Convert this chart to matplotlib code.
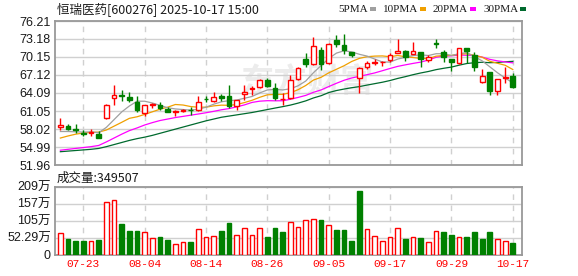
import numpy as np
import matplotlib
matplotlib.use('Agg')
import matplotlib.pyplot as plt
from matplotlib.patches import Rectangle

# daily bars, 2025-07-18 .. 2025-10-17
dates = ['07-18', '07-21', '07-22', '07-23', '07-24', '07-25', '07-28', '07-29', '07-30', '07-31',
         '08-01', '08-04', '08-05', '08-06', '08-07', '08-08', '08-11', '08-12', '08-13', '08-14',
         '08-15', '08-18', '08-19', '08-20', '08-21', '08-22', '08-25', '08-26', '08-27', '08-28',
         '08-29', '09-01', '09-02', '09-03', '09-04', '09-05', '09-08', '09-09', '09-10', '09-11',
         '09-12', '09-15', '09-16', '09-17', '09-18', '09-19', '09-22', '09-23', '09-24', '09-25',
         '09-26', '09-29', '09-30', '10-09', '10-10', '10-13', '10-14', '10-15', '10-16', '10-17']

opens = [58.32, 58.60, 58.10, 57.40, 57.40, 57.26, 59.82, 63.17, 63.80, 63.45,
         62.50, 60.70, 62.10, 62.06, 61.33, 60.95, 61.10, 61.30, 61.16, 63.10,
         62.73, 63.50, 63.50, 61.95, 64.00, 64.80, 65.17, 66.29, 65.00, 63.05,
         63.17, 66.51, 69.75, 68.92, 71.31, 69.08, 72.98, 72.15, 70.92, 66.58,
         68.52, 69.20, 69.30, 69.64, 70.76, 71.14, 70.59, 70.92, 69.64, 72.45,
         70.92, 69.75, 69.08, 71.59, 70.42, 66.01, 67.57, 64.34, 66.60, 66.96]
highs = [59.89, 58.88, 58.93, 57.93, 58.10, 57.65, 62.28, 65.41, 64.62, 64.28,
         63.50, 62.10, 62.40, 62.56, 61.73, 61.28, 61.35, 61.73, 63.50, 63.62,
         64.17, 63.84, 65.46, 62.95, 65.46, 65.29, 66.40, 66.58, 65.74, 64.06,
         67.13, 68.52, 70.76, 73.53, 71.87, 72.53, 73.82, 74.10, 71.03, 68.52,
         69.47, 69.75, 69.40, 70.76, 73.15, 71.31, 72.65, 71.03, 70.47, 73.15,
         71.31, 69.75, 71.70, 71.59, 70.92, 68.08, 67.68, 66.40, 68.52, 67.41]
lows = [57.93, 57.93, 57.38, 56.81, 56.80, 56.43, 59.72, 62.06, 62.73, 62.61,
        60.82, 60.27, 61.61, 61.28, 60.85, 60.16, 60.90, 60.44, 61.10, 62.50,
        62.50, 62.73, 61.56, 61.28, 62.95, 63.78, 64.90, 65.17, 62.95, 62.11,
        63.06, 66.29, 68.52, 68.80, 67.97, 68.97, 71.76, 70.59, 70.19, 64.07,
        68.13, 68.80, 68.70, 69.35, 70.76, 69.52, 70.59, 68.52, 69.35, 71.70,
        69.35, 67.85, 68.92, 69.19, 67.85, 65.84, 63.78, 63.78, 65.74, 65.00]
closes = [58.72, 58.10, 57.80, 57.20, 57.50, 56.54, 62.06, 63.73, 63.65, 62.90,
          61.28, 62.10, 62.20, 61.60, 60.90, 61.05, 61.20, 61.15, 62.56, 63.00,
          63.40, 63.30, 61.95, 62.84, 64.20, 64.95, 66.29, 65.33, 63.17, 63.12,
          66.29, 68.25, 69.02, 71.98, 68.92, 72.42, 72.31, 71.31, 70.42, 68.25,
          69.08, 69.30, 69.35, 70.53, 71.14, 70.08, 71.14, 69.80, 70.08, 72.40,
          70.19, 69.35, 71.59, 71.20, 68.41, 66.96, 64.34, 66.40, 66.75, 65.17]
# volume in 万 shares
volumes = [64.6, 49, 43, 41, 43, 46, 162, 168, 95, 71,
           71, 68, 51, 55, 46, 33, 39, 37, 79, 55,
           58, 71, 98, 61.5, 82, 61.5, 82, 55, 80, 68,
           100, 86, 107, 110, 107, 92, 74, 74, 43, 194,
           79, 58, 40, 55, 83, 49, 55, 52, 37, 71,
           68, 61.5, 55, 55, 68, 49, 68, 49, 43, 34.9507]

ma5 = [57.60, 57.60, 57.55, 57.50, 57.55, 57.40, 58.30, 59.60, 60.90, 61.90,
       62.70, 62.70, 62.40, 62.00, 61.60, 61.40, 61.30, 61.20, 61.35, 61.70,
       62.20, 62.60, 62.80, 62.90, 63.20, 63.50, 64.10, 64.60, 64.70, 64.60,
       64.80, 65.30, 66.10, 67.50, 68.70, 69.90, 70.80, 71.20, 71.00, 70.60,
       70.30, 69.80, 69.30, 69.30, 69.80, 70.10, 70.40, 70.50, 70.40, 70.70,
       70.70, 70.40, 70.70, 70.90, 70.20, 69.50, 68.50, 67.50, 66.60, 65.80]
ma10 = [56.50, 56.85, 57.15, 57.35, 57.45, 57.50, 57.85, 58.50, 59.15, 59.82,
        60.08, 60.48, 60.92, 61.36, 61.70, 62.15, 62.06, 61.80, 61.69, 61.70,
        61.92, 62.04, 62.01, 62.14, 62.47, 62.86, 63.36, 63.78, 63.84, 63.86,
        64.14, 64.64, 65.35, 66.26, 66.73, 67.48, 68.08, 68.68, 69.40, 69.92,
        70.20, 70.30, 70.33, 70.19, 70.41, 70.18, 70.06, 69.91, 69.88, 70.29,
        70.40, 70.41, 70.63, 70.70, 70.42, 70.11, 69.43, 69.09, 68.76, 68.04]
ma20 = [54.45, 54.60, 54.75, 54.90, 55.05, 55.25, 55.85, 56.50, 57.15, 57.75,
        58.20, 58.70, 59.10, 59.45, 59.70, 59.95, 60.15, 60.35, 60.55, 60.76,
        61.00, 61.26, 61.46, 61.75, 62.08, 62.50, 62.71, 62.79, 62.77, 62.78,
        63.03, 63.34, 63.68, 64.20, 64.60, 65.17, 65.72, 66.23, 66.62, 66.89,
        67.17, 67.47, 67.84, 68.22, 68.57, 68.83, 69.07, 69.29, 69.64, 70.10,
        70.30, 70.35, 70.48, 70.44, 70.42, 70.14, 69.75, 69.50, 69.32, 69.16]
ma30 = [54.20, 54.30, 54.40, 54.50, 54.60, 54.75, 55.05, 55.40, 55.75, 56.10,
        56.40, 56.65, 56.95, 57.30, 57.65, 58.00, 58.35, 58.70, 59.05, 59.40,
        59.70, 60.00, 60.20, 60.40, 60.60, 60.80, 61.05, 61.30, 61.55, 61.79,
        62.05, 62.38, 62.76, 63.25, 63.63, 64.16, 64.50, 64.75, 64.98, 65.16,
        65.42, 65.66, 65.90, 66.19, 66.54, 66.84, 67.17, 67.46, 67.71, 68.02,
        68.25, 68.45, 68.77, 69.05, 69.19, 69.26, 69.19, 69.23, 69.35, 69.41]

price_ticks = [51.96, 54.99, 58.02, 61.05, 64.09, 67.12, 70.15, 73.18, 76.21]
vol_ticks = [0, 52.29, 104.58, 156.87, 209.16]
vol_labels = ['0', '52.29万', '105万', '157万', '209万']
ma_names = ['5PMA', '10PMA', '20PMA', '30PMA']

RED = '#ff0000'
GREEN = '#008000'
MA_COLORS = ['#a0a0a0', '#f0a000', '#ff00ff', '#006a2e']
GRID = '#d0d0d0'
BORDER = '#999999'
TXT = '#1a1a1a'

W, H = 578, 276
fig = plt.figure(figsize=(W / 100, H / 100), dpi=100)


def fx(px):
    return px / W


def fy(py):
    return 1 - py / H


ax = fig.add_axes([fx(55), fy(165), (522 - 55) / W, (165 - 21) / H])
axv = fig.add_axes([fx(55), fy(254.5), (522 - 55) / W, (254.5 - 186.5) / H])

x = np.arange(len(dates))
o = np.array(opens)
h = np.array(highs)
l = np.array(lows)
c = np.array(closes)
w = 0.62

# moving averages
for vals, col in zip([ma30, ma20, ma10, ma5], MA_COLORS[::-1]):
    ax.plot(x, vals, color=col, lw=0.9, zorder=2)

# candles
for i in x:
    if c[i] > o[i]:
        ax.vlines(i, c[i], h[i], color=RED, lw=1, zorder=3)
        ax.vlines(i, l[i], o[i], color=RED, lw=1, zorder=3)
        ax.add_patch(Rectangle((i - w / 2, o[i]), w, c[i] - o[i], facecolor='white',
                               edgecolor=RED, lw=1, zorder=4))
    else:
        ax.vlines(i, l[i], h[i], color=GREEN, lw=1, zorder=3)
        ax.add_patch(Rectangle((i - w / 2, c[i]), w, o[i] - c[i], facecolor=GREEN,
                               edgecolor=GREEN, lw=1, zorder=4))

# volume bars coloured by change vs previous close
prev = np.concatenate([[o[0]], c[:-1]])
vol_up = c >= prev
axv.bar(x, volumes, width=w, color=np.where(vol_up, 'white', GREEN),
        edgecolor=np.where(vol_up, RED, GREEN), lw=1, zorder=3)

for a in (ax, axv):
    a.set_xlim(-0.7, 60.2)
    a.set_xticks(x[3::8])
    a.grid(axis='x', color=GRID, lw=1, linestyle=(0, (4, 4)))
    a.grid(axis='y', color=GRID, lw=1, linestyle='-')
    a.set_axisbelow(True)
    a.tick_params(length=0, pad=3, labelsize=9, colors=TXT)
    for s in a.spines.values():
        s.set_color(BORDER)
        s.set_linewidth(1.3)

ax.set_ylim(price_ticks[0], price_ticks[-1])
ax.set_yticks(price_ticks)
ax.set_yticklabels(['%.2f' % v for v in price_ticks], family='Liberation Sans', color=TXT)
ax.set_xticklabels([])

axv.set_ylim(0, vol_ticks[-1])
axv.set_yticks(vol_ticks)
axv.set_yticklabels(vol_labels, family=['Liberation Sans', 'Noto Sans CJK SC'], color=TXT)
axv.set_xticklabels(dates[3::8], family='Liberation Mono', fontsize=8, color=RED)

# watermark
ax.text(0.54, 0.57, '东方财富', transform=ax.transAxes, ha='center', va='center',
        fontsize=24, weight='bold', color='#ececec', family='Noto Sans CJK SC', zorder=0)

# title and MA legend
fig.text(fx(57), fy(9), '恒瑞医药[600276] 2025-10-17 15:00', ha='left', va='center',
         fontsize=9, color=TXT, family=['Noto Sans CJK SC', 'DejaVu Sans'])
px = 338
for name, col in zip(ma_names, MA_COLORS):
    t = fig.text(fx(px), fy(9), name, ha='left', va='center', fontsize=8,
                 family='Liberation Serif', color=TXT)
    fig.canvas.draw()
    x1 = t.get_window_extent().x1
    fig.patches.append(Rectangle((fx(x1 + 2), fy(10.5)), 6 / W, 3 / H, transform=fig.transFigure,
                                 facecolor=col, edgecolor='none'))
    px = x1 + 15

fig.text(fx(57), fy(178), '成交量:349507', ha='left', va='center', fontsize=9,
         color=TXT, family=['Noto Sans CJK SC', 'DejaVu Sans'])

fig.savefig('out.png', dpi=100)
